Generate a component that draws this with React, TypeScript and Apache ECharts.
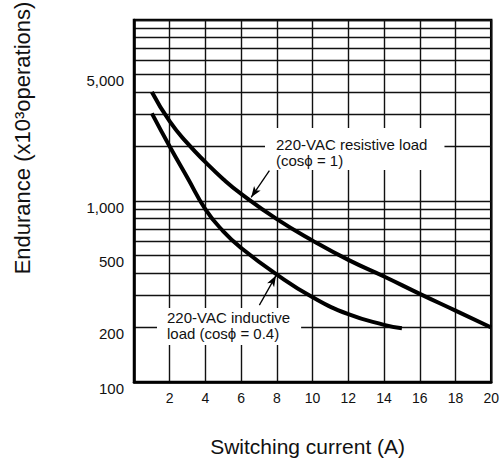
import React, { useEffect, useRef } from "react";
import * as echarts from "echarts";

// Switching current (A)
const resistiveCurrent = [1, 2, 3, 4, 5, 6, 8, 10, 12, 14, 16, 18, 20];
// Endurance (x10^3 operations), 220-VAC resistive load
const resistiveEndurance = [4000, 2750, 2080, 1640, 1320, 1095, 794, 604, 473, 383, 307, 248, 200];

const inductiveCurrent = [1, 2, 3, 4, 5, 6, 8, 10, 12, 14, 15];
// Endurance (x10^3 operations), 220-VAC inductive load
const inductiveEndurance = [3050, 2000, 1340, 900, 680, 550, 392, 294, 237, 207, 198];

const xTickInterval = 2;
const yGridValues = [
  100, 200, 300, 400, 500, 600, 700, 800, 900,
  1000, 2000, 3000, 4000, 5000, 6000, 7000, 8000, 9000, 10000,
];
const yLabelValues = [100, 200, 500, 1000, 5000];

// annotation arrows (data space): [start, tip]
const resistiveArrow = [[7.58, 1470], [6.56, 1048]];
const inductiveArrow = [[7.02, 266], [7.95, 387]];

const FONT = "'Liberation Sans', Arial, Helvetica, sans-serif";

function zip(xs: number[], ys: number[]) {
  return xs.map((x, i) => [x, ys[i]]);
}

function arrowMarkLine(arrow: number[][]) {
  return {
    silent: true,
    symbol: ["none", "arrow"],
    symbolSize: [6, 11],
    label: { show: false },
    lineStyle: { color: "#000", width: 1.3, type: "solid" },
    emphasis: { disabled: true },
    data: [[{ coord: arrow[0] }, { coord: arrow[1] }]],
  };
}

export default function App() {
  const ref = useRef<HTMLDivElement>(null);

  useEffect(() => {
    if (!ref.current) return;
    const chart = echarts.init(ref.current, undefined, { renderer: "svg" });
    chart.setOption({
      animation: false,
      backgroundColor: "#fff",
      grid: {
        left: 134,
        right: 9,
        top: 20,
        bottom: 79,
        show: true,
        borderColor: "#000",
        borderWidth: 2.5,
        backgroundColor: "transparent",
      },
      xAxis: {
        type: "value",
        min: 0,
        max: 20,
        interval: xTickInterval,
        name: "Switching current (A)",
        nameLocation: "middle",
        nameGap: 54,
        nameTextStyle: { fontFamily: FONT, fontSize: 21, color: "#111", padding: [0, 10, 0, 0] },
        axisLine: { show: true, lineStyle: { color: "#000", width: 2.5 } },
        axisTick: { show: false },
        axisLabel: {
          margin: 9,
          fontFamily: FONT,
          fontSize: 14,
          color: "#111",
          formatter: (v: number) => (v === 0 ? "" : String(v)),
        },
        splitLine: { show: true, lineStyle: { color: "#111", width: 1.4 } },
      },
      yAxis: {
        type: "log",
        logBase: 10,
        min: 100,
        max: 10000,
        axisLine: { show: true, lineStyle: { color: "#000", width: 2.5 } },
        axisTick: { show: false, customValues: yGridValues },
        axisLabel: {
          customValues: yLabelValues,
          margin: 10,
          fontFamily: FONT,
          fontSize: 15,
          lineHeight: 12,
          verticalAlign: "top",
          color: "#111",
          formatter: (v: number) =>
            String(Math.round(v)).replace(/\B(?=(\d{3})+(?!\d))/g, ","),
        },
        splitLine: { show: true, lineStyle: { color: "#111", width: 1.4 } },
      },
      series: [
        {
          name: "220-VAC resistive load",
          type: "line",
          data: zip(resistiveCurrent, resistiveEndurance),
          smooth: 0.5,
          showSymbol: false,
          symbol: "none",
          silent: true,
          lineStyle: { color: "#000", width: 4 },
          markLine: arrowMarkLine(resistiveArrow),
          z: 5,
        },
        {
          name: "220-VAC inductive load",
          type: "line",
          data: zip(inductiveCurrent, inductiveEndurance),
          smooth: 0.5,
          showSymbol: false,
          symbol: "none",
          silent: true,
          lineStyle: { color: "#000", width: 4 },
          markLine: arrowMarkLine(inductiveArrow),
          z: 5,
        },
      ],
      graphic: [
        {
          type: "text",
          x: 22,
          y: 138,
          rotation: Math.PI / 2,
          z: 100,
          style: {
            text: "Endurance (x10³operations)",
            font: `22px ${FONT}`,
            fill: "#111",
            textAlign: "center",
            textVerticalAlign: "middle",
          },
        },
        {
          type: "text",
          x: 265,
          y: 128,
          z: 100,
          style: {
            text: "220-VAC resistive load\n(cosϕ = 1)",
            font: `15px ${FONT}`,
            lineHeight: 16,
            fill: "#111",
            textAlign: "left",
            textVerticalAlign: "top",
            backgroundColor: "#fff",
            padding: [8, 17, 2, 11],
          },
        },
        {
          type: "text",
          x: 157,
          y: 308,
          z: 100,
          style: {
            text: "220-VAC inductive\nload (cosϕ = 0.4)",
            font: `15px ${FONT}`,
            lineHeight: 16,
            fill: "#111",
            textAlign: "left",
            textVerticalAlign: "top",
            backgroundColor: "#fff",
            padding: [1, 11, 4, 10],
          },
        },
      ],
    });
    return () => chart.dispose();
  }, []);

  return (
    <div
      ref={ref}
      style={{ position: "fixed", left: 0, top: 0, width: 502, height: 462 }}
    />
  );
}
